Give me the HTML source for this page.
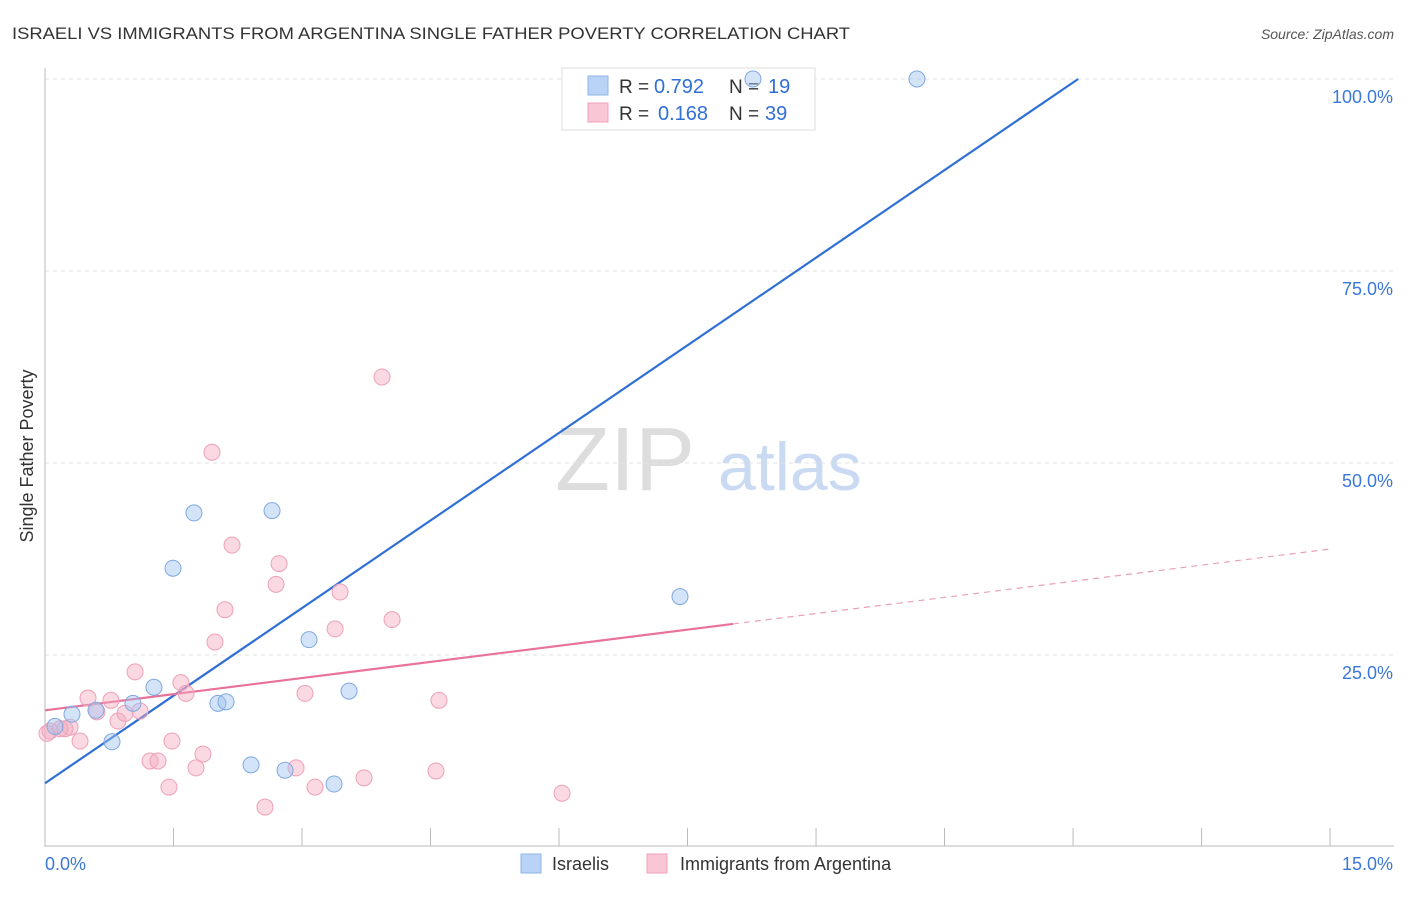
<!DOCTYPE html>
<html><head><meta charset="utf-8"><style>
body{margin:0;background:#fff;font-family:"Liberation Sans",sans-serif;}
svg text{font-family:"Liberation Sans",sans-serif;}
</style></head><body>
<svg id="chart" width="1406" height="892">
<text x="12" y="39" font-size="17" fill="#333" textLength="838" lengthAdjust="spacingAndGlyphs">ISRAELI VS IMMIGRANTS FROM ARGENTINA SINGLE FATHER POVERTY CORRELATION CHART</text>
<text x="1394" y="39" font-size="14" fill="#555" text-anchor="end" font-style="italic">Source: ZipAtlas.com</text>
<text x="33" y="456" font-size="18" fill="#333" text-anchor="middle" transform="rotate(-90 33 456)">Single Father Poverty</text>
<text x="555" y="490" font-size="90" fill="#ddd" font-family="Liberation Serif">ZIP</text>
<text x="718" y="490" font-size="68" fill="#c9daf2">atlas</text>
<g id="grid"></g><g id="axes"></g>
<g>
<rect x="562" y="68" width="253" height="62" fill="#fff" stroke="#ddd"/>
<rect x="588" y="76" width="20" height="19" fill="#b8d3f5" stroke="#8fb5e8"/>
<rect x="588" y="103" width="20" height="19" fill="#f8c6d4" stroke="#f0a0b8"/>
<text x="619" y="93" font-size="19" fill="#333">R =</text>
<text x="654" y="93" font-size="20" fill="#2f6fd6">0.792</text>
<text x="729" y="93" font-size="19" fill="#333">N =</text>
<text x="768" y="93" font-size="20" fill="#2f6fd6">19</text>
<text x="619" y="120" font-size="19" fill="#333">R =</text>
<text x="658" y="120" font-size="20" fill="#2f6fd6">0.168</text>
<text x="729" y="120" font-size="19" fill="#333">N =</text>
<text x="765" y="120" font-size="20" fill="#2f6fd6">39</text>
</g>
<g id="lines"></g><g id="pts"></g>
<g>
<rect x="521" y="854" width="20" height="19" fill="#b8d3f5" stroke="#8fb5e8"/>
<text x="552" y="870" font-size="18" fill="#333">Israelis</text>
<rect x="647" y="854" width="20" height="19" fill="#f8c6d4" stroke="#f0a0b8"/>
<text x="680" y="870" font-size="18" fill="#333">Immigrants from Argentina</text>
</g>
</svg>
<script>
const blueX=[8.264,10.178,1.739,2.65,1.494,7.412,3.082,1.272,3.549,2.019,2.113,1.027,0.595,0.315,0.782,2.405,2.802,3.374,0.117];
const blueY=[100,100,43.5,43.8,36.3,32.6,27.0,20.8,20.3,18.7,18.9,18.7,17.8,17.3,13.7,10.7,10.0,8.2,15.7];
const pinkX=[3.934,1.949,2.183,2.732,2.697,3.444,2.101,4.051,3.386,1.984,1.051,1.587,1.646,3.035,4.599,0.77,0.502,1.109,0.607,0.852,0.934,0.292,0.175,0.058,0.409,1.482,1.844,1.226,1.319,1.762,2.93,3.724,4.564,3.152,1.447,2.568,6.035,0.023,0.233];
const pinkY=[61.2,51.4,39.3,36.9,34.2,33.2,30.9,29.6,28.4,26.7,22.8,21.4,20.0,20.0,19.1,19.1,19.4,17.7,17.6,16.4,17.4,15.6,15.4,15.1,13.8,13.8,12.1,11.2,11.2,10.3,10.3,9.0,9.9,7.8,7.8,5.2,7.0,14.8,15.4];
const blueFit=[8.3,100,12.06];
const pinkFit=[17.8,38.8];
const xTicks=["0.0%","15.0%"];
const yTicks=["25.0%","50.0%","75.0%","100.0%"];
const X=v=>45+v*85.67, Y=v=>847-v*7.68;
const NS="http://www.w3.org/2000/svg";
function mk(p,tag,at){const e=document.createElementNS(NS,tag);for(const k in at)e.setAttribute(k,at[k]);document.getElementById(p).appendChild(e);return e;}
[25,50,75,100].forEach((v,i)=>{
 const l=mk('grid','line',{x1:45,x2:1394,y1:Y(v),y2:Y(v),stroke:'#e2e2e2','stroke-dasharray':'4,4'});
 
 
 const t=mk('grid','text',{x:1393,y:Y(v)+24,'font-size':18,fill:'#3a78d8','text-anchor':'end'});t.textContent=yTicks[i];
 
 
});
mk('axes','line',{x1:45,x2:45,y1:68,y2:847,stroke:'#bbb'});
mk('axes','line',{x1:45,x2:1394,y1:846,y2:846,stroke:'#bbb'});
for(let i=0;i<=10;i++){const l=mk('axes','line',{x1:X(i*1.5),x2:X(i*1.5),y1:828,y2:846,stroke:'#bbb'});
 
 }
let t=mk('axes','text',{x:45,y:870,'font-size':18,fill:'#3a78d8'});t.textContent=xTicks[0];


t=mk('axes','text',{x:1393,y:870,'font-size':18,fill:'#3a78d8','text-anchor':'end'});t.textContent=xTicks[1];


let b=mk('lines','line',{x1:X(0),y1:Y(blueFit[0]),x2:X(blueFit[2]),y2:Y(blueFit[1]),stroke:'#2f6fd6','stroke-width':2.2});


const pAt=x=>pinkFit[0]+(pinkFit[1]-pinkFit[0])*x/15;
let p=mk('lines','line',{x1:X(0),y1:Y(pAt(0)),x2:X(8.03),y2:Y(pAt(8.03)),stroke:'#e8729a','stroke-width':2.2});


p=mk('lines','line',{x1:X(8.03),y1:Y(pAt(8.03)),x2:X(15),y2:Y(pAt(15)),stroke:'#e8a0b8','stroke-width':1.2,'stroke-dasharray':'6,5'});


pinkX.forEach((x,i)=>{const c=mk('pts','circle',{cx:X(x),cy:Y(pinkY[i]),r:8,fill:'rgba(245,170,192,0.45)',stroke:'#eea0b8','stroke-width':1});
 
 });
blueX.forEach((x,i)=>{const c=mk('pts','circle',{cx:X(x),cy:Y(blueY[i]),r:8,fill:'rgba(160,195,240,0.45)',stroke:'#7fa8e0','stroke-width':1});
 
 });
</script>
</body></html>
